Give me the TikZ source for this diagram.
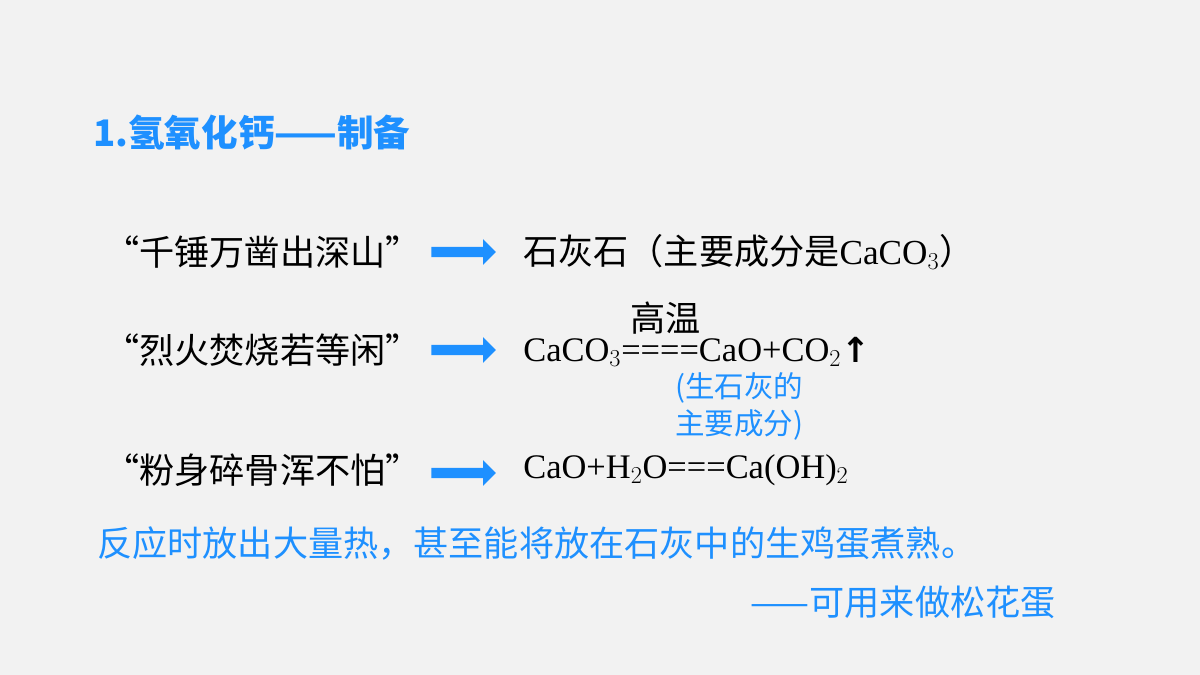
\documentclass[tikz,border=0pt]{standalone}
\usepackage{fontspec}
\setmainfont{Noto Sans CJK SC}
\newfontfamily\chemfont{Liberation Serif}
\usetikzlibrary{shapes.arrows}
\definecolor{bgray}{RGB}{242,242,242}
\definecolor{sblue}{RGB}{30,144,255}
\tikzset{
  txt/.style={anchor=west, inner sep=0pt, font=\fontsize{25}{30}\selectfont},
  bluetxt/.style={txt, text=sblue},
  chem/.style={anchor=west, inner sep=0pt, font=\fontsize{24.5}{28}\selectfont\chemfont},
  barrow/.style={single arrow, fill=sblue, draw=none, inner xsep=0pt, inner ysep=3.5pt,
    single arrow head extend=5.5pt, single arrow head indent=0pt, minimum height=46pt}
}
\begin{document}
\begin{tikzpicture}[x=0.025cm,y=-0.025cm]
  \fill[bgray] (0,0) rectangle (1200,675);

  \node[bluetxt, font=\fontsize{26}{30}\selectfont\bfseries] (title) at (93,133) {1.氢氧化钙——制备};

  % left column
  \node[txt] (q1) at (104,252) {“千锤万凿出深山”};
  \node[txt] (q2) at (104,350) {“烈火焚烧若等闲”};
  \node[txt] (q3) at (104,470) {“粉身碎骨浑不怕”};

  % arrows
  \node[barrow] (a1) at (461,252) {};
  \node[barrow] (a2) at (461,350) {};
  \node[barrow] (a3) at (461,473) {};

  % right column
  \node[txt] (r1) at (523,252) {石灰石（主要成分是{\chemfont CaCO$_3$}）};
  \node[chem] (r2) at (523,352) {CaCO$_3$====CaO+CO$_2$\raisebox{-1pt}{{\fontspec{DejaVu Sans}\textbf{↑}}}};
  \node[txt] (heat) at (630,318) {高温};
  \node[bluetxt, font=\fontsize{21}{25}\selectfont] (note1) at (675,388) {(生石灰的};
  \node[bluetxt, font=\fontsize{21}{25}\selectfont] (note2) at (675,425) {主要成分)};
  \node[chem] (r3) at (523,470) {CaO+H$_2$O===Ca(OH)$_2$};

  % bottom lines
  \node[bluetxt] (hot) at (97,543) {反应时放出大量热，甚至能将放在石灰中的生鸡蛋煮熟。};
  \node[bluetxt, anchor=east] (egg) at (1056,602) {——可用来做松花蛋};
\end{tikzpicture}
\end{document}
